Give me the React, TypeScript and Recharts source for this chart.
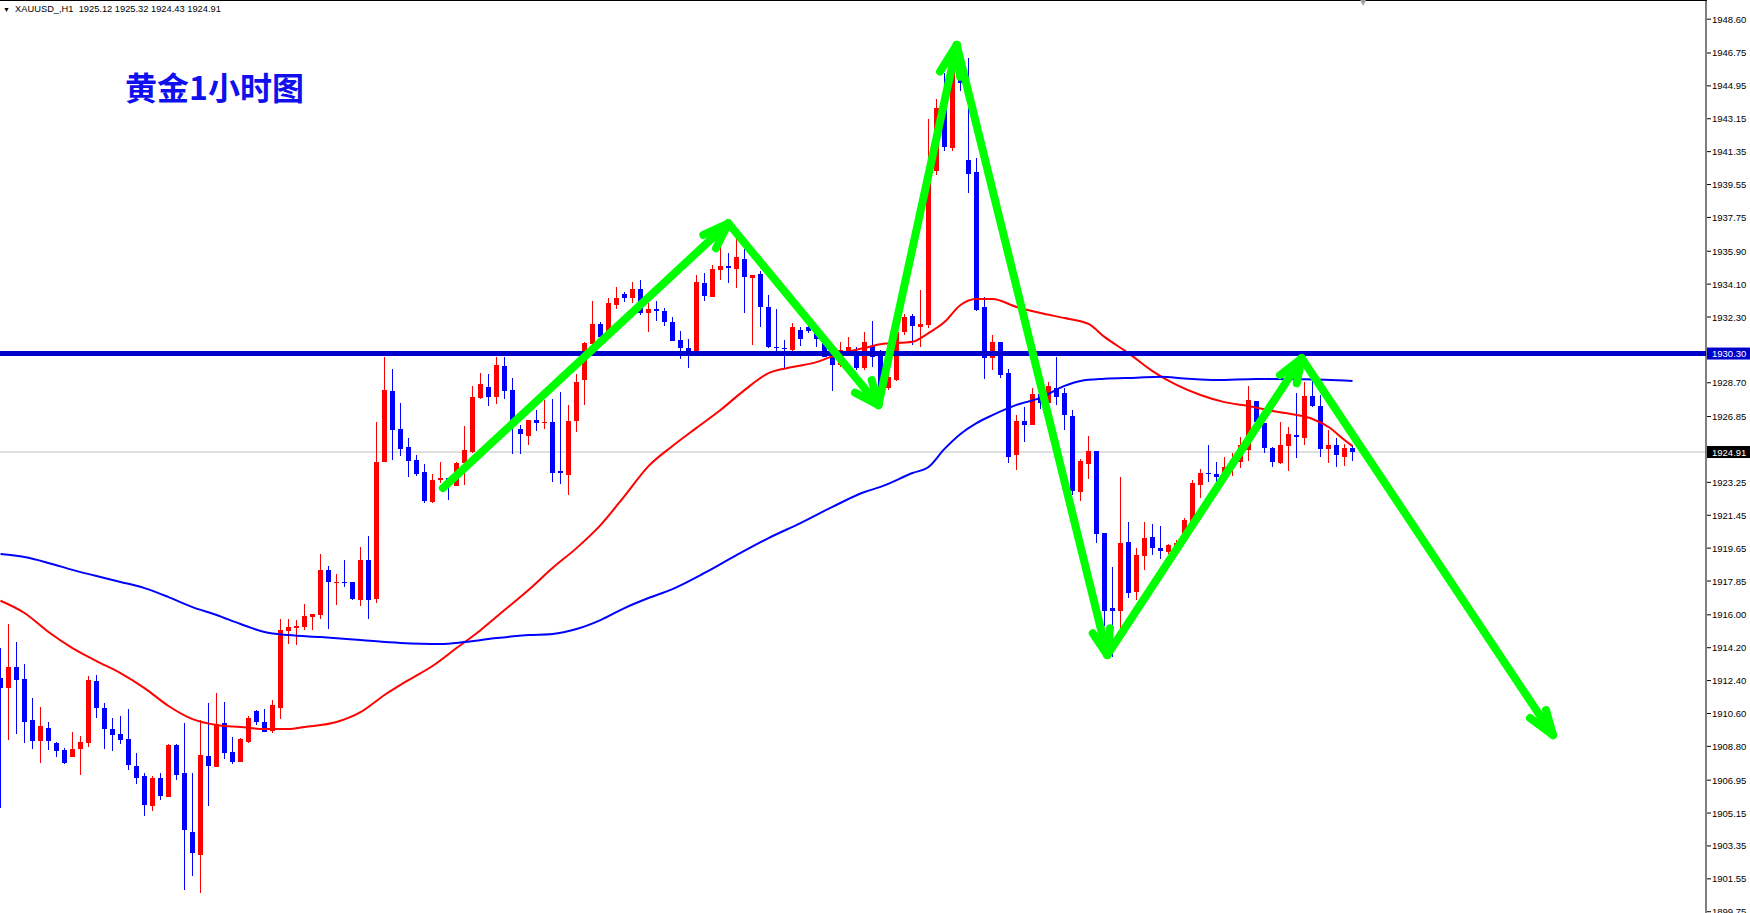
import React from "react";
import { ComposedChart, Bar, Line, XAxis, YAxis, ReferenceLine } from "recharts";

// H1 candles, oldest first
const opens = [
  1912.56, 1912.01, 1913.14, 1912.48, 1910.24, 1909.10, 1909.80, 1908.99, 1908.60, 1908.23,
  1908.64, 1908.97, 1912.37, 1910.88, 1909.75, 1909.48, 1909.20, 1907.73, 1907.18, 1905.54,
  1907.07, 1906.04, 1908.88, 1907.33, 1904.11, 1902.85, 1908.27, 1907.69, 1910.06, 1908.49,
  1907.96, 1909.05, 1910.76, 1910.16, 1909.65, 1910.91, 1915.13, 1915.29, 1915.35, 1915.89,
  1916.01, 1918.46, 1917.72, 1917.80, 1917.78, 1916.80, 1919.00, 1916.86, 1924.36, 1928.25,
  1926.17, 1925.19, 1924.47, 1923.81, 1922.16, 1923.38, 1923.49, 1923.05, 1924.32, 1924.92,
  1927.87, 1928.47, 1927.94, 1929.62, 1928.30, 1926.19, 1925.80, 1926.66, 1926.48, 1926.55,
  1923.87, 1923.67, 1926.62, 1928.85, 1930.83, 1931.92, 1931.51, 1932.98, 1933.56, 1933.36,
  1933.85, 1932.53, 1932.74, 1932.62, 1932.02, 1931.04, 1930.59, 1930.31, 1934.18, 1933.41,
  1934.87, 1935.09, 1934.92, 1935.47, 1934.42, 1934.66, 1932.83, 1930.67, 1930.62, 1930.49,
  1931.59, 1931.77, 1931.41, 1930.86, 1930.22, 1929.68, 1930.22, 1930.40, 1929.49, 1930.74,
  1930.22, 1928.40, 1928.85, 1931.49, 1932.36, 1931.77, 1931.87, 1940.31, 1943.63, 1941.53,
  1945.96, 1940.90, 1940.26, 1932.87, 1930.04, 1930.91, 1929.25, 1924.75, 1926.62, 1926.38,
  1928.08, 1927.61, 1928.40, 1928.12, 1926.88, 1922.74, 1924.25, 1924.98, 1920.46, 1916.37,
  1916.23, 1919.99, 1917.27, 1919.21, 1920.25, 1919.64, 1919.46, 1919.64, 1920.06, 1921.04,
  1923.10, 1923.78, 1923.70, 1923.47, 1924.02, 1924.38, 1925.02, 1927.70, 1926.48, 1925.15,
  1924.32, 1925.24, 1925.84, 1925.70, 1927.98, 1927.43, 1925.06, 1925.30, 1924.64, 1925.12,
];

const highs = [
  1914.19, 1915.50, 1914.50, 1913.31, 1911.43, 1910.94, 1910.11, 1909.02, 1908.69, 1909.58,
  1909.37, 1912.65, 1912.69, 1911.16, 1910.35, 1910.46, 1910.84, 1908.41, 1907.33, 1907.18,
  1907.33, 1908.91, 1908.91, 1910.06, 1907.33, 1910.24, 1911.16, 1911.71, 1911.23, 1909.31,
  1909.24, 1910.46, 1910.79, 1910.82, 1911.33, 1915.76, 1915.76, 1915.72, 1916.59, 1916.04,
  1919.33, 1918.67, 1918.23, 1919.00, 1917.81, 1919.73, 1920.33, 1926.57, 1930.09, 1929.45,
  1927.61, 1925.70, 1924.75, 1924.25, 1923.70, 1924.36, 1923.49, 1924.38, 1926.35, 1928.53,
  1929.21, 1929.17, 1930.09, 1930.09, 1928.94, 1926.38, 1926.66, 1927.21, 1927.76, 1927.80,
  1928.17, 1927.49, 1929.17, 1930.94, 1933.19, 1932.04, 1933.32, 1933.93, 1933.66, 1934.23,
  1934.32, 1933.05, 1933.18, 1932.81, 1932.29, 1931.53, 1931.11, 1934.60, 1934.73, 1935.15,
  1936.15, 1935.82, 1936.55, 1936.00, 1934.60, 1934.81, 1933.51, 1932.74, 1931.04, 1931.98,
  1931.77, 1931.92, 1931.68, 1931.04, 1930.68, 1930.94, 1931.19, 1930.68, 1931.49, 1932.09,
  1930.49, 1929.13, 1931.77, 1932.47, 1932.47, 1933.77, 1943.12, 1944.22, 1945.64, 1946.18,
  1947.15, 1946.46, 1940.98, 1933.42, 1931.32, 1930.95, 1929.44, 1926.93, 1927.39, 1928.40,
  1928.38, 1928.76, 1930.13, 1928.40, 1927.21, 1924.51, 1925.79, 1924.98, 1920.46, 1918.63,
  1923.56, 1921.08, 1919.64, 1921.06, 1920.97, 1920.86, 1919.86, 1920.10, 1921.28, 1923.38,
  1923.97, 1925.30, 1924.34, 1924.66, 1924.87, 1925.75, 1928.53, 1927.70, 1926.48, 1925.17,
  1926.57, 1926.30, 1928.15, 1928.76, 1928.85, 1928.04, 1926.12, 1925.66, 1925.36, 1925.32,
];

const lows = [
  1905.42, 1909.15, 1909.47, 1908.99, 1908.63, 1907.90, 1908.56, 1908.20, 1907.84, 1908.23,
  1907.25, 1908.75, 1910.35, 1908.63, 1908.56, 1908.93, 1907.50, 1906.73, 1904.95, 1905.28,
  1905.86, 1905.99, 1906.96, 1900.94, 1901.70, 1900.79, 1905.54, 1907.69, 1908.13, 1907.84,
  1907.96, 1908.97, 1909.99, 1909.60, 1909.54, 1910.28, 1914.40, 1914.36, 1915.16, 1915.16,
  1915.78, 1915.20, 1916.54, 1917.50, 1916.81, 1916.48, 1915.77, 1916.66, 1924.36, 1924.47,
  1924.71, 1923.59, 1923.61, 1922.14, 1922.14, 1923.23, 1922.28, 1923.05, 1923.14, 1924.87,
  1927.76, 1927.43, 1927.53, 1927.81, 1924.80, 1924.80, 1925.29, 1926.08, 1926.17, 1923.27,
  1923.16, 1922.55, 1925.97, 1927.49, 1930.83, 1931.13, 1931.49, 1932.74, 1933.09, 1933.09,
  1932.40, 1931.49, 1932.09, 1931.81, 1931.00, 1930.02, 1929.55, 1930.31, 1933.19, 1933.38,
  1934.32, 1934.18, 1933.87, 1932.51, 1930.77, 1931.77, 1930.59, 1930.40, 1929.44, 1930.40,
  1930.72, 1931.44, 1930.64, 1930.13, 1928.27, 1929.58, 1930.13, 1929.44, 1929.39, 1929.58,
  1928.19, 1928.30, 1928.80, 1931.32, 1930.77, 1930.64, 1931.68, 1940.07, 1941.35, 1941.35,
  1944.69, 1939.07, 1932.59, 1928.95, 1929.40, 1929.00, 1924.29, 1923.93, 1925.47, 1926.38,
  1927.30, 1927.03, 1927.49, 1926.11, 1922.55, 1922.19, 1923.44, 1919.95, 1915.35, 1913.70,
  1914.99, 1916.90, 1916.81, 1918.42, 1919.27, 1919.06, 1919.33, 1919.61, 1920.01, 1920.82,
  1922.38, 1923.29, 1923.01, 1923.47, 1923.60, 1924.08, 1924.44, 1926.38, 1924.84, 1924.08,
  1924.25, 1923.89, 1924.60, 1925.29, 1927.36, 1924.66, 1924.32, 1924.08, 1924.17, 1924.43,
];

const closes = [
  1911.98, 1913.14, 1912.43, 1910.14, 1909.10, 1909.91, 1909.10, 1908.56, 1907.91, 1908.64,
  1909.02, 1912.43, 1910.91, 1909.73, 1909.42, 1909.14, 1907.78, 1907.07, 1905.59, 1907.07,
  1906.08, 1908.88, 1907.24, 1904.22, 1902.98, 1908.33, 1907.74, 1910.01, 1908.45, 1907.96,
  1909.20, 1910.35, 1910.16, 1909.60, 1911.05, 1915.17, 1915.35, 1915.40, 1915.93, 1916.04,
  1918.46, 1917.81, 1917.81, 1917.72, 1916.86, 1919.00, 1916.80, 1924.36, 1928.30, 1926.11,
  1925.08, 1924.42, 1923.70, 1922.25, 1923.38, 1923.49, 1923.19, 1924.32, 1925.02, 1927.92,
  1928.63, 1927.92, 1929.68, 1928.26, 1926.51, 1925.91, 1926.66, 1926.51, 1926.57, 1923.74,
  1923.78, 1926.61, 1928.72, 1930.86, 1931.92, 1931.22, 1933.05, 1933.36, 1933.36, 1933.85,
  1932.50, 1932.75, 1932.61, 1932.00, 1931.00, 1930.59, 1930.31, 1934.22, 1933.45, 1934.92,
  1935.09, 1934.98, 1935.60, 1934.51, 1934.60, 1932.83, 1930.64, 1930.59, 1930.53, 1931.74,
  1931.10, 1931.55, 1931.08, 1930.13, 1929.68, 1930.49, 1930.68, 1929.49, 1930.91, 1930.13,
  1928.41, 1929.03, 1931.49, 1932.32, 1931.83, 1931.92, 1939.62, 1943.73, 1941.58, 1945.99,
  1945.08, 1940.13, 1932.68, 1930.04, 1930.95, 1929.13, 1924.66, 1926.62, 1926.38, 1928.08,
  1927.59, 1928.53, 1927.91, 1926.93, 1922.79, 1924.43, 1924.97, 1920.42, 1916.23, 1916.23,
  1919.95, 1917.21, 1919.27, 1920.18, 1919.64, 1919.51, 1919.82, 1919.95, 1921.19, 1923.20,
  1923.74, 1923.70, 1923.56, 1924.11, 1924.47, 1925.29, 1927.76, 1926.57, 1925.15, 1924.38,
  1925.29, 1925.89, 1925.75, 1927.98, 1927.43, 1925.06, 1925.30, 1924.72, 1925.15, 1924.91,
];

// moving averages, sampled along the curve: [bar index, price]
const fastMa = [
  [0, 1916.77], [3, 1916.10], [6, 1915.06], [9, 1914.18], [12, 1913.47], [15, 1912.81],
  [18, 1911.99], [21, 1911.01], [24, 1910.29], [27, 1909.97], [30, 1909.86], [33, 1909.75],
  [36, 1909.75], [38, 1909.86], [42, 1910.13], [45, 1910.67], [48, 1911.61], [51, 1912.43],
  [54, 1913.20], [57, 1914.18], [60, 1915.16], [63, 1916.26], [66, 1917.36], [69, 1918.56],
  [72, 1919.65], [75, 1920.91], [78, 1922.50], [81, 1924.14], [84, 1925.24], [87, 1926.23],
  [90, 1927.21], [93, 1928.30], [96, 1929.23], [99, 1929.56], [102, 1929.83], [105, 1930.32],
  [108, 1930.60], [110, 1930.81], [114, 1930.94], [116, 1931.42], [118, 1932.02], [120, 1932.96],
  [122, 1933.28], [124, 1933.28], [127, 1932.85], [130, 1932.52], [133, 1932.24], [136, 1931.92],
  [138, 1931.21], [141, 1930.32], [144, 1929.34], [147, 1928.58], [150, 1928.03], [153, 1927.64],
  [156, 1927.43], [159, 1927.15], [162, 1926.94], [164, 1926.72], [166, 1926.28], [168, 1925.57],
  [169, 1925.23],
];

const slowMa = [
  [0, 1919.33], [3, 1919.16], [6, 1918.84], [9, 1918.46], [12, 1918.12], [15, 1917.80],
  [18, 1917.46], [21, 1916.97], [24, 1916.42], [27, 1915.99], [30, 1915.50], [33, 1915.06],
  [36, 1914.89], [40, 1914.78], [45, 1914.62], [50, 1914.46], [55, 1914.40], [58, 1914.51],
  [62, 1914.73], [66, 1914.89], [69, 1914.95], [72, 1915.22], [75, 1915.71], [78, 1916.37],
  [81, 1916.92], [84, 1917.41], [88, 1918.29], [92, 1919.27], [96, 1920.20], [100, 1921.02],
  [104, 1921.91], [108, 1922.72], [110, 1923.00], [114, 1923.76], [116, 1924.09], [118, 1925.08],
  [120, 1925.90], [122, 1926.49], [124, 1926.93], [127, 1927.49], [130, 1927.87], [133, 1928.53],
  [135, 1928.80], [138, 1928.92], [142, 1928.98], [145, 1929.03], [148, 1928.94], [152, 1928.85],
  [157, 1928.91], [163, 1928.89], [169, 1928.80],
];

const priceTicks = [
  1948.6, 1946.75, 1944.95, 1943.15, 1941.35, 1939.55, 1937.75, 1935.9, 1934.1, 1932.3,
  1930.3, 1928.7, 1926.85, 1924.91, 1923.25, 1921.45, 1919.65, 1917.85, 1916.0, 1914.2,
  1912.4, 1910.6, 1908.8, 1906.95, 1905.15, 1903.35, 1901.55, 1899.75,
];

const resistance = 1930.3;
const lastPrice = 1924.91;

// hand-drawn green path: [bar index, price]
const arrowPath = [
  [55.31, 1922.94], [90.98, 1937.43], [109.73, 1927.48], [119.53, 1947.19],
  [138.35, 1913.8], [162.65, 1930.04], [194.06, 1909.42],
];
const arrowHeads = [
  [[87.85, 1936.79], [90.98, 1937.43], [89.44, 1936.06]],
  [[106.81, 1928.16], [109.73, 1927.48], [108.9, 1928.85]],
  [[117.44, 1945.73], [119.53, 1947.19], [119.94, 1945.45]],
  [[136.53, 1914.99], [138.35, 1913.8], [138.69, 1915.26]],
  [[159.94, 1929.12], [162.65, 1930.04], [162.03, 1928.67]],
  [[191.19, 1910.35], [194.06, 1909.42], [193.19, 1910.79]],
];

const fastByIdx = new Map(fastMa.map(([i, v]) => [i, v]));
const slowByIdx = new Map(slowMa.map(([i, v]) => [i, v]));

const rows = opens.map((o, i) => ({
  i,
  o,
  h: highs[i],
  l: lows[i],
  c: closes[i],
  range: [lows[i], highs[i]],
  fast: fastByIdx.has(i) ? fastByIdx.get(i) : null,
  slow: slowByIdx.has(i) ? slowByIdx.get(i) : null,
}));

const segments: { x: number; y: number }[][] = [];
for (let k = 0; k < arrowPath.length - 1; k++) {
  segments.push([
    { x: arrowPath[k][0], y: arrowPath[k][1] },
    { x: arrowPath[k + 1][0], y: arrowPath[k + 1][1] },
  ]);
}
arrowHeads.forEach(([a, tip, b]) => {
  segments.push([{ x: a[0], y: a[1] }, { x: tip[0], y: tip[1] }]);
  segments.push([{ x: tip[0], y: tip[1] }, { x: b[0], y: b[1] }]);
});

const Candle = (props: any) => {
  const { x, y, width, height, payload } = props;
  if (x == null || y == null || !payload) return null;
  const { o, h, l, c } = payload;
  const top = Math.min(y, y + height);
  const span = Math.abs(height);
  const toY = (p: number) => (h === l ? top : top + ((h - p) / (h - l)) * span);
  const cx = x + width / 2;
  const color = c >= o ? "#ff0000" : "#0000ff";
  const bTop = Math.round(toY(Math.max(o, c)));
  const bBot = Math.round(toY(Math.min(o, c)));
  return (
    <g shapeRendering="crispEdges">
      <rect x={cx - 0.5} y={Math.round(top)} width={1} height={Math.max(Math.round(span), 1)} fill={color} />
      <rect x={cx - 2.5} y={bTop} width={5} height={Math.max(bBot - bTop, 1)} fill={color} />
    </g>
  );
};

const PriceTick = (props: any) => {
  const { x, y, payload } = props;
  const v = payload.value;
  const label = v.toFixed(2);
  const font = { fontFamily: "'Liberation Sans', Arial, sans-serif", fontSize: 9.5 };
  if (v === resistance || v === lastPrice) {
    return (
      <g>
        <rect x={x + 1} y={y - 6} width={43} height={12} fill={v === resistance ? "#0000cc" : "#000000"} />
        <text x={x + 6} y={y} dominantBaseline="central" fill="#ffffff" style={font}>
          {label}
        </text>
      </g>
    );
  }
  return (
    <g>
      <line x1={x + 1} x2={x + 5} y1={y} y2={y} stroke="#000" />
      <text x={x + 6} y={y} dominantBaseline="central" fill="#000" style={font}>
        {label}
      </text>
    </g>
  );
};

export default function App() {
  return (
    <div style={{ position: "relative", width: 1750, height: 913, background: "#fff", overflow: "hidden" }}>
      <style>{"body{margin:0}"}</style>
      <ComposedChart width={1750} height={913} data={rows} margin={{ top: 0, right: 0, bottom: 0, left: 0 }}>
        <XAxis dataKey="i" type="number" domain={[-0.0625, 213.1875]} allowDataOverflow hide />
        <YAxis
          orientation="right"
          width={44}
          type="number"
          domain={[1899.68, 1949.65]}
          allowDataOverflow
          ticks={priceTicks}
          interval={0}
          tickSize={0}
          tickMargin={0}
          axisLine={{ stroke: "#000" }}
          tickLine={false}
          tick={<PriceTick />}
        />
        <ReferenceLine y={lastPrice} stroke="#c0c0c0" strokeWidth={1} zIndex={250} />
        <Bar dataKey="range" barSize={6} shape={(p: any) => <Candle {...p} />} isAnimationActive={false} />
        <Line dataKey="fast" type="monotone" stroke="#ff0000" strokeWidth={2} dot={false} connectNulls isAnimationActive={false} />
        <Line dataKey="slow" type="monotone" stroke="#0000ff" strokeWidth={2} dot={false} connectNulls isAnimationActive={false} />
        <ReferenceLine y={resistance} stroke="#0000cc" strokeWidth={5} zIndex={450} />
        {segments.map((seg, k) => (
          <ReferenceLine
            key={k}
            segment={seg}
            stroke="#00ff00"
            strokeWidth={8}
            strokeLinecap="round"
            zIndex={460}
          />
        ))}
      </ComposedChart>
      <div style={{ position: "absolute", left: 0, top: 0, width: 1707, height: 1, background: "#000" }} />
      <div
        style={{
          position: "absolute",
          left: 3,
          top: 3,
          whiteSpace: "pre",
          fontFamily: "'Liberation Sans', Arial, sans-serif",
          fontSize: 9.3,
          lineHeight: "12px",
          color: "#000",
        }}
      >
        <span style={{ fontSize: 7 }}>▼</span>  XAUUSD_,H1  1925.12 1925.32 1924.43 1924.91
      </div>
      <div style={{ position: "absolute", left: 1360, top: -2, fontSize: 8, color: "#a0a0a0", fontFamily: "'DejaVu Sans', sans-serif" }}>▼</div>
      <div
        style={{
          position: "absolute",
          left: 125,
          top: 70,
          fontFamily: "'Noto Sans CJK SC', sans-serif",
          fontWeight: 700,
          fontSize: 32,
          lineHeight: "32px",
          color: "#1010ee",
        }}
      >
        黄金1小时图
      </div>
    </div>
  );
}
